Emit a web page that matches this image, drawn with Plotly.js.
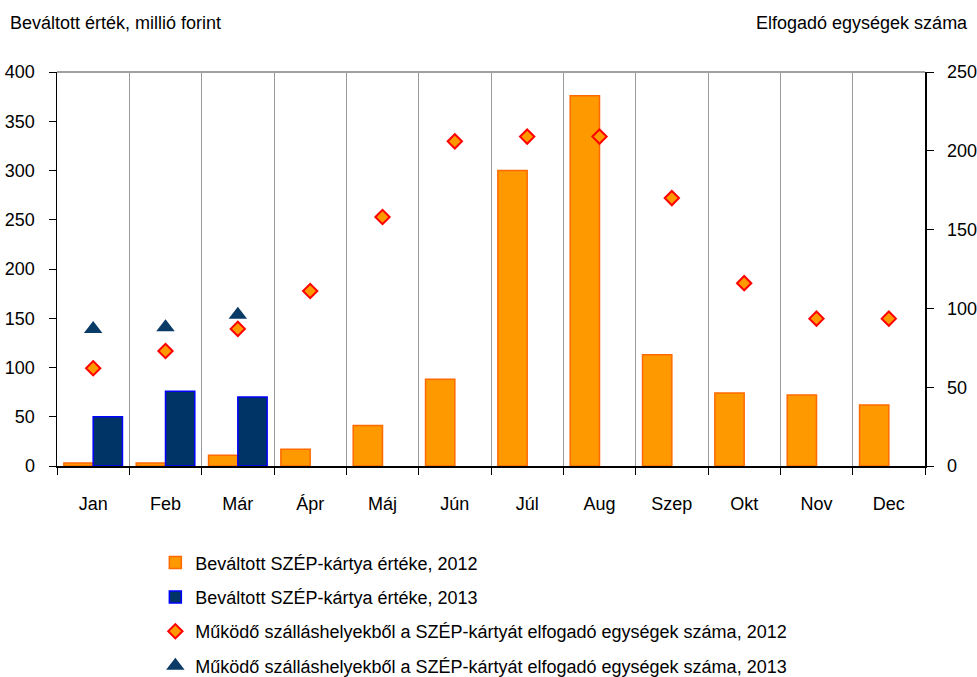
<!DOCTYPE html>
<html>
<head>
<meta charset="utf-8">
<script src="https://cdn.plot.ly/plotly-3.0.1.min.js"></script>
<style>html,body{margin:0;padding:0;background:#fff;}#chart{width:977px;height:677px;}</style>
</head>
<body>
<div id="chart"></div>
<script>
const months = ["Jan","Feb","Már","Ápr","Máj","Jún","Júl","Aug","Szep","Okt","Nov","Dec"];
const value2012 = [3, 3, 11, 17, 41, 88, 300, 376, 113, 74, 72, 62];
const value2013 = [50, 76, 70, null, null, null, null, null, null, null, null, null];
const units2012 = [62, 73, 87, 111, 158, 206, 209, 209, 170, 116, 93.5, 93.5];
const units2013 = [87, 88, 96, null, null, null, null, null, null, null, null, null];
const leftTicks = [0, 50, 100, 150, 200, 250, 300, 350, 400];
const rightTicks = [0, 50, 100, 150, 200, 250];

const names = [
  "Beváltott SZÉP-kártya értéke, 2012",
  "Beváltott SZÉP-kártya értéke, 2013",
  "Működő szálláshelyekből a SZÉP-kártyát elfogadó egységek száma, 2012",
  "Működő szálláshelyekből a SZÉP-kártyát elfogadó egységek száma, 2013"
];

const FONT = "Liberation Sans, Arial, sans-serif";

const traces = [
  {type:"bar", x:months, y:value2012, name:names[0], legendgroup:"a",
   marker:{color:"#FF9900", line:{color:"#FF6A00", width:1.5}}},
  {type:"bar", x:months, y:value2013, name:names[1], legendgroup:"b",
   marker:{color:"#003366", line:{color:"#0000FF", width:1.5}}},
  {type:"scatter", mode:"markers", x:months, y:units2012, yaxis:"y2", name:names[2], legendgroup:"c",
   marker:{symbol:"diamond", size:11, color:"#FF9900", line:{color:"#FF0000", width:2}}},
  {type:"scatter", mode:"markers", x:months, y:units2013, yaxis:"y2", name:names[3], legendgroup:"d",
   marker:{symbol:"triangle-up", size:16, color:"#0A3A66", line:{width:0}}}
];

const layout = {
  width:977, height:677,
  margin:{l:57, r:52, t:72, b:211, autoexpand:false},
  paper_bgcolor:"#fff", plot_bgcolor:"#fff",
  font:{family:FONT, size:18, color:"#000"},
  barmode:"group", bargap:0.19, bargroupgap:0,
  showlegend:true,
  legend:{xref:"container", yref:"container", x:0.159, xanchor:"left", y:0.196, yanchor:"top", orientation:"v",
          traceorder:"grouped", tracegroupgap:8, font:{family:FONT, size:18, color:"#000"},
          bgcolor:"rgba(0,0,0,0)", itemwidth:30},
  xaxis:{type:"category", range:[-0.5, 11.5], autorange:false, tickson:"boundaries", showgrid:true,
         gridcolor:"#999999", gridwidth:1,
         ticks:"outside", ticklen:7, tickcolor:"#000", showline:true, linecolor:"#000", linewidth:2,
         ticklabelstandoff:20, tickfont:{size:18}, zeroline:false, fixedrange:true},
  yaxis:{range:[0,400], tickvals:leftTicks, ticktext:leftTicks.map(String), showgrid:false, zeroline:false,
         showline:true, linecolor:"#000", linewidth:1.5, ticks:"outside", ticklen:7, tickcolor:"#000",
         ticklabelstandoff:10, tickfont:{size:18}},
  yaxis2:{range:[0,250], tickvals:rightTicks, ticktext:rightTicks.map(String), overlaying:"y", side:"right",
          showgrid:false, zeroline:false, showline:true, linecolor:"#000", linewidth:1.5,
          ticks:"outside", ticklen:7, tickcolor:"#000", ticklabelstandoff:10, tickfont:{size:18}},
  shapes:[{type:"line", xref:"paper", yref:"paper", x0:0, x1:1, y0:1, y1:1, line:{color:"#A0A0A0", width:2}}],
  annotations:[
    {text:"Beváltott érték, millió forint", xref:"paper", yref:"paper", x:-0.057, y:1.125,
     xanchor:"left", yanchor:"middle", showarrow:false, font:{size:18}},
    {text:"Elfogadó egységek száma", xref:"paper", yref:"paper", x:1.052, y:1.125,
     xanchor:"right", yanchor:"middle", showarrow:false, font:{size:18}}
  ]
};

Plotly.newPlot("chart", traces, layout, {displayModeBar:false, staticPlot:true});
</script>
</body>
</html>
